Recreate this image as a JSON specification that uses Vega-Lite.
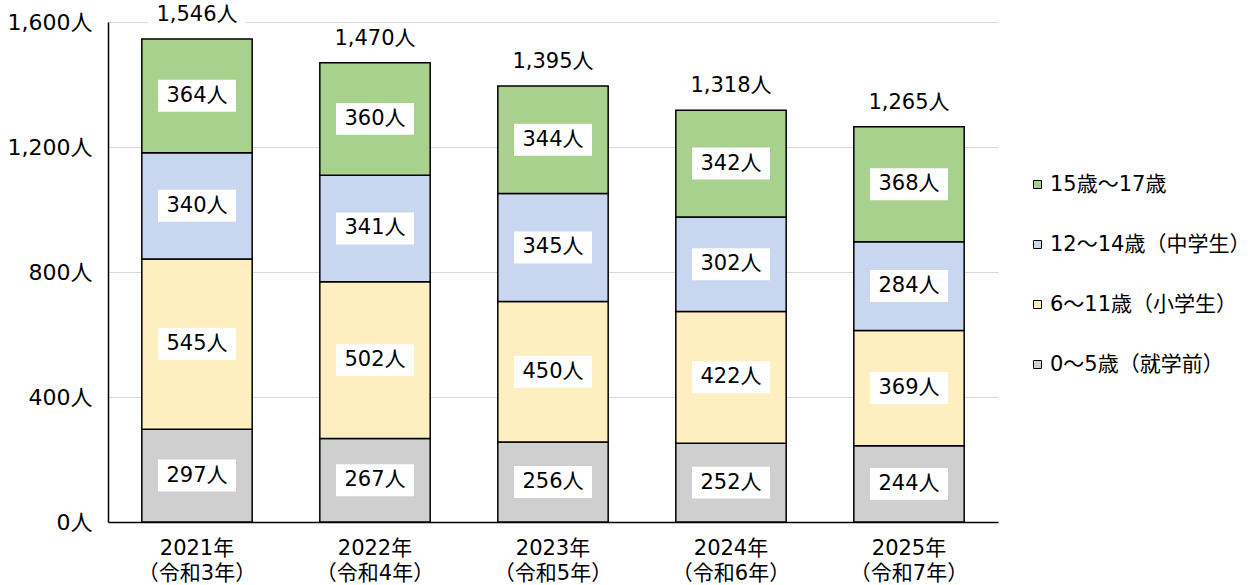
{
  "$schema": "https://vega.github.io/schema/vega-lite/v6.json",
  "width": 890,
  "height": 500,
  "autosize": {"type": "none"},
  "padding": {"left": 108, "top": 22, "right": 252, "bottom": 63},
  "background": "white",
  "config": {
    "view": {"stroke": null},
    "font": "DejaVu Sans, Noto Sans CJK JP",
    "axis": {"labelFont": "DejaVu Sans, Noto Sans CJK JP", "labelColor": "#000000"},
    "legend": {"labelFont": "DejaVu Sans, Noto Sans CJK JP"},
    "text": {"font": "DejaVu Sans, Noto Sans CJK JP"}
  },
  "data": {
    "values": [
      {"year": "2021年|（令和3年）", "age": "0～5歳（就学前）", "ord": 0, "value": 297},
      {"year": "2021年|（令和3年）", "age": "6～11歳（小学生）", "ord": 1, "value": 545},
      {"year": "2021年|（令和3年）", "age": "12～14歳（中学生）", "ord": 2, "value": 340},
      {"year": "2021年|（令和3年）", "age": "15歳～17歳", "ord": 3, "value": 364},
      {"year": "2022年|（令和4年）", "age": "0～5歳（就学前）", "ord": 0, "value": 267},
      {"year": "2022年|（令和4年）", "age": "6～11歳（小学生）", "ord": 1, "value": 502},
      {"year": "2022年|（令和4年）", "age": "12～14歳（中学生）", "ord": 2, "value": 341},
      {"year": "2022年|（令和4年）", "age": "15歳～17歳", "ord": 3, "value": 360},
      {"year": "2023年|（令和5年）", "age": "0～5歳（就学前）", "ord": 0, "value": 256},
      {"year": "2023年|（令和5年）", "age": "6～11歳（小学生）", "ord": 1, "value": 450},
      {"year": "2023年|（令和5年）", "age": "12～14歳（中学生）", "ord": 2, "value": 345},
      {"year": "2023年|（令和5年）", "age": "15歳～17歳", "ord": 3, "value": 344},
      {"year": "2024年|（令和6年）", "age": "0～5歳（就学前）", "ord": 0, "value": 252},
      {"year": "2024年|（令和6年）", "age": "6～11歳（小学生）", "ord": 1, "value": 422},
      {"year": "2024年|（令和6年）", "age": "12～14歳（中学生）", "ord": 2, "value": 302},
      {"year": "2024年|（令和6年）", "age": "15歳～17歳", "ord": 3, "value": 342},
      {"year": "2025年|（令和7年）", "age": "0～5歳（就学前）", "ord": 0, "value": 244},
      {"year": "2025年|（令和7年）", "age": "6～11歳（小学生）", "ord": 1, "value": 369},
      {"year": "2025年|（令和7年）", "age": "12～14歳（中学生）", "ord": 2, "value": 284},
      {"year": "2025年|（令和7年）", "age": "15歳～17歳", "ord": 3, "value": 368}
    ]
  },
  "encoding": {
    "x": {
      "field": "year",
      "type": "nominal",
      "sort": null,
      "scale": {"paddingInner": 0.38, "paddingOuter": 0.19},
      "axis": {
        "title": null,
        "labelAngle": 0,
        "labelExpr": "split(datum.label, '|')",
        "labelFontSize": 21,
        "labelLineHeight": 25,
        "labelPadding": 15,
        "ticks": false,
        "domainColor": "#000000",
        "domainWidth": 1.5
      }
    }
  },
  "layer": [
    {
      "mark": {"type": "bar", "stroke": "#000000", "strokeWidth": 1.5},
      "encoding": {
        "y": {
          "field": "value",
          "type": "quantitative",
          "stack": "zero",
          "scale": {"domain": [0, 1600]},
          "axis": {
            "title": null,
            "values": [0, 400, 800, 1200, 1600],
            "labelExpr": "format(datum.value, ',') + '人'",
            "labelFontSize": 22,
            "labelPadding": 16,
            "ticks": false,
            "domainColor": "#000000",
            "domainWidth": 1.5,
            "gridColor": "#D9D9D9",
            "gridWidth": 1
          }
        },
        "color": {
          "field": "age",
          "type": "nominal",
          "scale": {
            "domain": ["15歳～17歳", "12～14歳（中学生）", "6～11歳（小学生）", "0～5歳（就学前）"],
            "range": ["#A9D18E", "#C9D6F0", "#FFEFC0", "#CFCFCF"]
          },
          "legend": {
            "title": null,
            "orient": "none",
            "legendX": 919,
            "legendY": 152,
            "symbolType": "square",
            "symbolSize": 64,
            "symbolStrokeColor": "#000000",
            "symbolStrokeWidth": 1,
            "labelFontSize": 21,
            "labelColor": "#000000",
            "labelOffset": 2,
            "labelLimit": 400,
            "rowPadding": 38,
            "padding": 0
          }
        },
        "order": {"field": "ord", "type": "quantitative", "sort": "ascending"}
      }
    },
    {
      "transform": [
        {"stack": "value", "groupby": ["year"], "sort": [{"field": "ord", "order": "ascending"}], "as": ["v0", "v1"]},
        {"calculate": "(datum.v0 + datum.v1) / 2", "as": "mid"}
      ],
      "layer": [
        {
          "mark": {"type": "point", "shape": "M-1,-0.41H1V0.41H-1Z", "size": 6084, "filled": true, "color": "white", "opacity": 1, "strokeWidth": 0},
          "encoding": {"y": {"field": "mid", "type": "quantitative"}}
        },
        {
          "mark": {"type": "text", "fontSize": 21, "color": "#000000", "baseline": "middle"},
          "encoding": {
            "y": {"field": "mid", "type": "quantitative"},
            "text": {"field": "label"}
          },
          "transform": [{"calculate": "datum.value + '人'", "as": "label"}]
        }
      ]
    },
    {
      "transform": [
        {"aggregate": [{"op": "sum", "field": "value", "as": "total"}], "groupby": ["year"]},
        {"calculate": "format(datum.total, ',') + '人'", "as": "tlabel"}
      ],
      "layer": [
        {
          "mark": {"type": "point", "shape": "M-1,-0.3H1V0.3H-1Z", "size": 9604, "filled": true, "color": "white", "opacity": 1, "strokeWidth": 0, "yOffset": -23},
          "encoding": {"y": {"field": "total", "type": "quantitative"}}
        },
        {
          "mark": {"type": "text", "fontSize": 21, "color": "#000000", "baseline": "middle", "dy": -24},
          "encoding": {
            "y": {"field": "total", "type": "quantitative"},
            "text": {"field": "tlabel"}
          }
        }
      ]
    }
  ]
}
